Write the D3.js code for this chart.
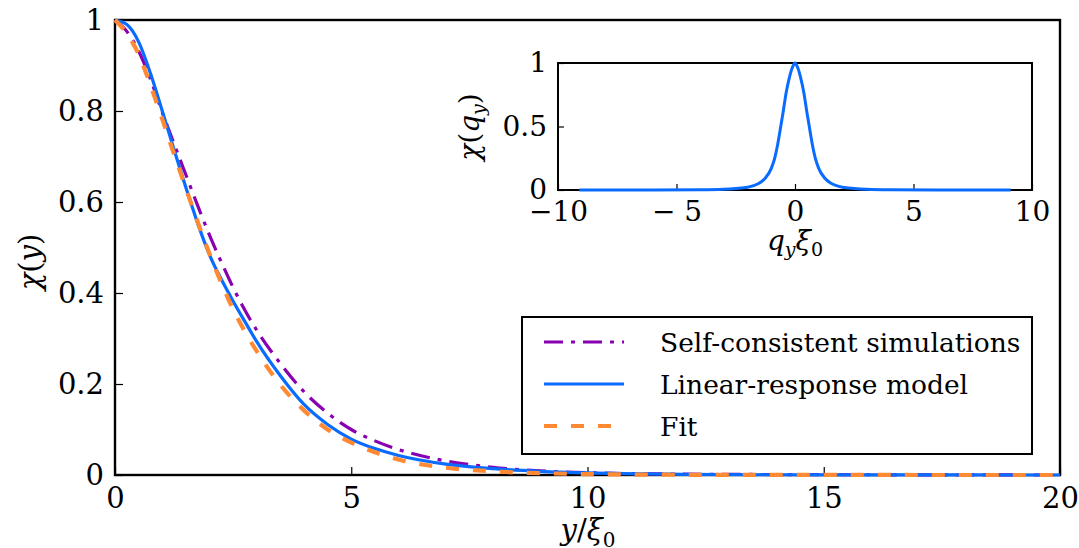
<!DOCTYPE html>
<html>
<head>
<meta charset="utf-8">
<script src="https://cdn.jsdelivr.net/npm/d3@7"></script>
<style>
  body { margin: 0; background: #fff; }
  svg, svg text { font-family: "DejaVu Serif", "Liberation Serif", "Times New Roman", serif !important; }
</style>
</head>
<body>
<div id="chart"></div>
<script>
// main panel data, y / xi0 sampled
const yPos = [0, 0.25, 0.5, 0.75, 1, 1.25, 1.5, 1.75, 2, 2.25, 2.5, 2.75, 3, 3.5, 4, 4.5, 5, 5.5, 6, 7, 8, 9, 10, 12, 14, 16, 18, 20];
const selfConsistent = [1, 0.975, 0.932, 0.87, 0.797, 0.728, 0.66, 0.592, 0.527, 0.468, 0.412, 0.362, 0.318, 0.245, 0.183, 0.136, 0.1, 0.075, 0.056, 0.031, 0.017, 0.009, 0.005, 0.002, 0.001, 0.0005, 0.0002, 0];
const linearResponse = [1, 0.99, 0.952, 0.883, 0.8, 0.715, 0.632, 0.553, 0.484, 0.43, 0.382, 0.337, 0.293, 0.218, 0.155, 0.111, 0.079, 0.058, 0.043, 0.024, 0.014, 0.008, 0.0045, 0.0015, 0.0005, 0.0002, 0.0001, 0];
const fitValues = [1, 0.97, 0.925, 0.857, 0.782, 0.705, 0.63, 0.556, 0.486, 0.422, 0.364, 0.315, 0.272, 0.198, 0.142, 0.1, 0.071, 0.05, 0.034, 0.016, 0.008, 0.004, 0.002, 0.0005, 0.0002, 0.0001, 0, 0];

// inset data, q_y xi0
const qPos = [-9.1, -6, -4, -3, -2.5, -2, -1.75, -1.5, -1.25, -1, -0.85, -0.75, -0.62, -0.5, -0.37, -0.25, -0.12, 0, 0.12, 0.25, 0.37, 0.5, 0.62, 0.75, 0.85, 1, 1.25, 1.5, 1.75, 2, 2.5, 3, 4, 6, 9.1];
const chiQ = [0, 0.0005, 0.002, 0.006, 0.012, 0.022, 0.034, 0.055, 0.095, 0.17, 0.255, 0.34, 0.48, 0.615, 0.77, 0.875, 0.96, 1, 0.96, 0.875, 0.77, 0.615, 0.48, 0.34, 0.255, 0.17, 0.095, 0.055, 0.034, 0.022, 0.012, 0.006, 0.002, 0.0005, 0];

const xTicks = [0, 5, 10, 15, 20];
const yTicks = [0, 0.2, 0.4, 0.6, 0.8, 1];
const qTicks = [-10, -5, 0, 5, 10];
const qTickLabels = ["\u221210", "\u2212 5", "0", "5", "10"];
const chiQTicks = [0, 0.5, 1];

const seriesNames = ["Self-consistent simulations", "Linear-response model", "Fit"];
const seriesColors = ["#8800b0", "#0a6cff", "#ff8a33"];

const width = 1079, height = 548;
const svg = d3.select("#chart").append("svg")
    .attr("width", width)
    .attr("height", height);

const x = d3.scaleLinear().domain([0, 20]).range([115, 1060]);
const y = d3.scaleLinear().domain([0, 1]).range([475, 20]);

const styles = [
  {color: seriesColors[0], width: 3.2, dash: "19,8,4,8"},
  {color: seriesColors[1], width: 3.2, dash: null},
  {color: seriesColors[2], width: 4.2, dash: "13,14"}
];
const seriesValues = [selfConsistent, linearResponse, fitValues];

function styleAxis(g, size) {
  g.attr("font-family", null);
  g.select(".domain").remove();
  g.selectAll("line").attr("stroke", "#000").attr("stroke-width", 1.2);
  g.selectAll("text").attr("font-size", size).attr("fill", "#000");
}

// ticks (inward, bottom and left only)
svg.append("g").attr("transform", "translate(0,475)")
  .call(d3.axisBottom(x).tickValues(xTicks).tickSize(-8).tickPadding(12).tickFormat(d3.format("d")))
  .call(g => styleAxis(g, 29));

svg.append("g").attr("transform", "translate(115,0)")
  .call(d3.axisLeft(y).tickValues(yTicks).tickSize(-8).tickPadding(11).tickFormat(d => d === 0 || d === 1 ? d3.format("d")(d) : d3.format(".1f")(d)))
  .call(g => styleAxis(g, 29));

// frame
svg.append("rect")
  .attr("x", 115).attr("y", 20)
  .attr("width", 1060 - 115).attr("height", 475 - 20)
  .attr("fill", "none").attr("stroke", "#000").attr("stroke-width", 2.4);

const line = d3.line().x((d, i) => x(yPos[i])).y(d => y(d)).curve(d3.curveMonotoneX);

seriesValues.forEach((vals, k) => {
  svg.append("path")
    .datum(vals)
    .attr("d", line)
    .attr("fill", "none")
    .attr("stroke", styles[k].color)
    .attr("stroke-width", styles[k].width)
    .attr("stroke-dasharray", styles[k].dash);
});

// axis labels
const yl = svg.append("text")
  .attr("transform", "translate(40,262) rotate(-90)")
  .attr("text-anchor", "middle").attr("font-size", 29);
yl.append("tspan").attr("font-style", "italic").text("\u03c7");
yl.append("tspan").text("(");
yl.append("tspan").attr("font-style", "italic").text("y");
yl.append("tspan").text(")");

const xl = svg.append("text")
  .attr("x", 588).attr("y", 540)
  .attr("text-anchor", "middle").attr("font-size", 29);
xl.append("tspan").attr("font-style", "italic").text("y");
xl.append("tspan").text("/");
xl.append("tspan").attr("font-style", "italic").text("\u03be");
xl.append("tspan").attr("font-size", 20).attr("dy", 7).text("0");

// legend
const legend = svg.append("g");
legend.append("rect")
  .attr("x", 522).attr("y", 317).attr("width", 510).attr("height", 137)
  .attr("fill", "#fff").attr("stroke", "#000").attr("stroke-width", 2);
seriesNames.forEach((name, k) => {
  const ly = 342 + k * 42;
  legend.append("line")
    .attr("x1", 544).attr("x2", 624).attr("y1", ly).attr("y2", ly)
    .attr("stroke", styles[k].color)
    .attr("stroke-width", styles[k].width)
    .attr("stroke-dasharray", styles[k].dash);
  legend.append("text")
    .attr("x", 660).attr("y", ly + 10)
    .attr("font-size", 26.5)
    .text(name);
});

// inset
const qx = d3.scaleLinear().domain([-10, 10]).range([558, 1032]);
const qy = d3.scaleLinear().domain([0, 1]).range([190, 63]);

svg.append("rect")
  .attr("x", 558).attr("y", 63).attr("width", 1032 - 558).attr("height", 190 - 63)
  .attr("fill", "#fff");

svg.append("g").attr("transform", "translate(0,190)")
  .call(d3.axisBottom(qx).tickValues(qTicks).tickSize(-6).tickPadding(11).tickFormat((d, i) => qTickLabels[i]))
  .call(g => styleAxis(g, 28));

svg.append("g").attr("transform", "translate(558,0)")
  .call(d3.axisLeft(qy).tickValues(chiQTicks).tickSize(-6).tickPadding(11).tickFormat(d => d === 0.5 ? "0.5" : d3.format("d")(d)))
  .call(g => styleAxis(g, 28));

svg.append("rect")
  .attr("x", 558).attr("y", 63).attr("width", 1032 - 558).attr("height", 190 - 63)
  .attr("fill", "none").attr("stroke", "#000").attr("stroke-width", 2);

svg.append("path")
  .datum(chiQ)
  .attr("d", d3.line().x((d, i) => qx(qPos[i])).y(d => qy(d)).curve(d3.curveMonotoneX))
  .attr("fill", "none")
  .attr("stroke", seriesColors[1])
  .attr("stroke-width", 3);

const iyl = svg.append("text")
  .attr("transform", "translate(479,127) rotate(-90)")
  .attr("text-anchor", "middle").attr("font-size", 28);
iyl.append("tspan").attr("font-style", "italic").text("\u03c7");
iyl.append("tspan").text("(");
iyl.append("tspan").attr("font-style", "italic").text("q");
iyl.append("tspan").attr("font-style", "italic").attr("font-size", 19).attr("dy", 6).text("y");
iyl.append("tspan").attr("dy", -6).text(")");

const ixl = svg.append("text")
  .attr("x", 795).attr("y", 250)
  .attr("text-anchor", "middle").attr("font-size", 28);
ixl.append("tspan").attr("font-style", "italic").text("q");
ixl.append("tspan").attr("font-style", "italic").attr("font-size", 19).attr("dy", 6).text("y");
ixl.append("tspan").attr("font-style", "italic").attr("dy", -6).text("\u03be");
ixl.append("tspan").attr("font-size", 19).attr("dy", 6).text("0");
</script>
</body>
</html>
